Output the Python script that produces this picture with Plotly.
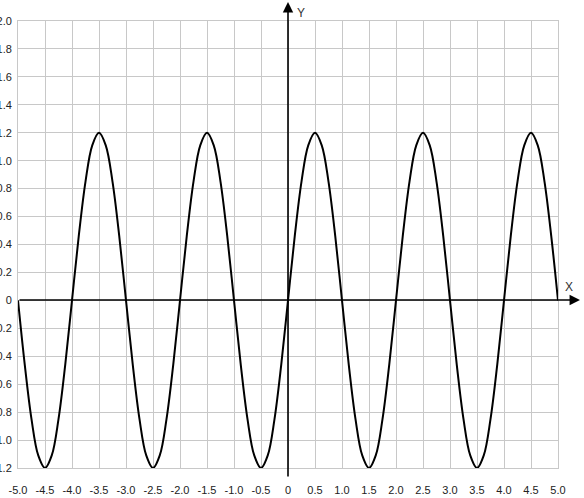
import plotly.graph_objects as go

# Curve values (x step 0.125)
x_vals = [-5.0, -4.875, -4.75, -4.625, -4.5, -4.375, -4.25, -4.125,
          -4.0, -3.875, -3.75, -3.625, -3.5, -3.375, -3.25, -3.125,
          -3.0, -2.875, -2.75, -2.625, -2.5, -2.375, -2.25, -2.125,
          -2.0, -1.875, -1.75, -1.625, -1.5, -1.375, -1.25, -1.125,
          -1.0, -0.875, -0.75, -0.625, -0.5, -0.375, -0.25, -0.125,
          0.0, 0.125, 0.25, 0.375, 0.5, 0.625, 0.75, 0.875,
          1.0, 1.125, 1.25, 1.375, 1.5, 1.625, 1.75, 1.875,
          2.0, 2.125, 2.25, 2.375, 2.5, 2.625, 2.75, 2.875,
          3.0, 3.125, 3.25, 3.375, 3.5, 3.625, 3.75, 3.875,
          4.0, 4.125, 4.25, 4.375, 4.5, 4.625, 4.75, 4.875, 5.0]
y_vals = [0.0, -0.46, -0.85, -1.11, -1.2, -1.11, -0.85, -0.46,
          0.0, 0.46, 0.85, 1.11, 1.2, 1.11, 0.85, 0.46,
          0.0, -0.46, -0.85, -1.11, -1.2, -1.11, -0.85, -0.46,
          0.0, 0.46, 0.85, 1.11, 1.2, 1.11, 0.85, 0.46,
          0.0, -0.46, -0.85, -1.11, -1.2, -1.11, -0.85, -0.46,
          0.0, 0.46, 0.85, 1.11, 1.2, 1.11, 0.85, 0.46,
          0.0, -0.46, -0.85, -1.11, -1.2, -1.11, -0.85, -0.46,
          0.0, 0.46, 0.85, 1.11, 1.2, 1.11, 0.85, 0.46,
          0.0, -0.46, -0.85, -1.11, -1.2, -1.11, -0.85, -0.46,
          0.0, 0.46, 0.85, 1.11, 1.2, 1.11, 0.85, 0.46, 0.0]

x_tickvals = [-5.0, -4.5, -4.0, -3.5, -3.0, -2.5, -2.0, -1.5, -1.0, -0.5, 0.0,
              0.5, 1.0, 1.5, 2.0, 2.5, 3.0, 3.5, 4.0, 4.5, 5.0]
x_ticktext = ["-5.0", "-4.5", "-4.0", "-3.5", "-3.0", "-2.5", "-2.0", "-1.5", "-1.0", "-0.5", "0",
              "0.5", "1.0", "1.5", "2.0", "2.5", "3.0", "3.5", "4.0", "4.5", "5.0"]
y_tickvals = [-1.2, -1.0, -0.8, -0.6, -0.4, -0.2, 0.0, 0.2, 0.4, 0.6, 0.8,
              1.0, 1.2, 1.4, 1.6, 1.8, 2.0]
y_ticktext = ["-1.2", "-1.0", "-0.8", "-0.6", "-0.4", "-0.2", "0", "0.2", "0.4", "0.6", "0.8",
              "1.0", "1.2", "1.4", "1.6", "1.8", "2.0"]

x_range = [-5.0, 5.0]
y_range = [-1.2, 2.0]

grid_color = "#c8c8c8"
tick_font = dict(family="Liberation Sans, Arial, sans-serif", size=11, color="#222222")
label_font = dict(family="Liberation Sans, Arial, sans-serif", size=12, color="#333333")

fig = go.Figure()
fig.add_trace(go.Scatter(
    x=x_vals, y=y_vals, mode="lines",
    line=dict(color="black", width=2, shape="spline", smoothing=1.0),
    hoverinfo="skip", showlegend=False, cliponaxis=False,
))

# axis arrows through the origin (paper coordinates: plot area spans 540 x 447 px)
fig.update_layout(
    width=584, height=498, autosize=False,
    margin=dict(l=18, r=26, t=21, b=30, pad=0),
    paper_bgcolor="white", plot_bgcolor="white",
    xaxis=dict(
        range=x_range, tickvals=x_tickvals, ticktext=x_ticktext,
        showgrid=True, gridcolor=grid_color, gridwidth=1,
        zeroline=False, showline=True, mirror=True, linecolor=grid_color, linewidth=1,
        ticks="outside", ticklen=12, tickcolor="rgba(0,0,0,0)",
        tickfont=tick_font, fixedrange=True, automargin=False,
    ),
    yaxis=dict(
        range=y_range, tickvals=y_tickvals, ticktext=y_ticktext,
        showgrid=True, gridcolor=grid_color, gridwidth=1,
        zeroline=False, showline=True, mirror=True, linecolor=grid_color, linewidth=1,
        ticks="outside", ticklen=3, tickcolor="rgba(0,0,0,0)",
        tickfont=tick_font, fixedrange=True, automargin=False,
    ),
    annotations=[
        dict(x=1.0407, y=0.3758, xref="paper", yref="paper", ax=-562, ay=0,
             axref="pixel", ayref="pixel", text="", showarrow=True, arrowhead=2,
             arrowsize=1.3, arrowwidth=1.6, arrowcolor="black"),
        dict(x=0.5, y=1.0425, xref="paper", yref="paper", ax=0, ay=476,
             axref="pixel", ayref="pixel", text="", showarrow=True, arrowhead=2,
             arrowsize=1.3, arrowwidth=1.6, arrowcolor="black"),
        dict(x=1.0315, y=0.405, xref="paper", yref="paper", text="X", showarrow=False,
             font=label_font),
        dict(x=0.524, y=1.038, xref="paper", yref="paper", text="Y", showarrow=False,
             font=label_font),
    ],
)

fig.write_html("out.html", config={"displayModeBar": False},
               post_script="document.body.style.margin='0';")
